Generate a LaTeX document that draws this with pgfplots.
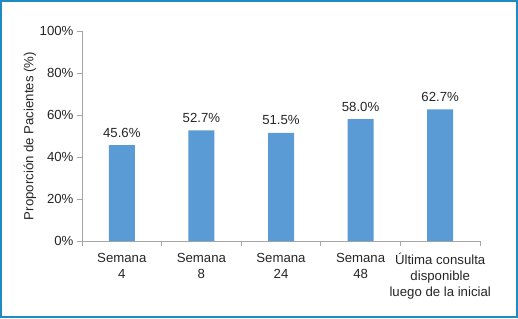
\documentclass[border=0pt]{standalone}
\usepackage{pgfplots}
\pgfplotsset{compat=1.18}
\usepackage{fontspec}
\setmainfont{Liberation Sans}
\definecolor{barcol}{HTML}{5B9BD5}
\definecolor{axiscol}{HTML}{A6A6A6}
\definecolor{framecol}{HTML}{1E8BC3}
\definecolor{txt}{HTML}{262626}
\begin{document}
\begin{tikzpicture}[x=1pt,y=1pt]
\fill[white] (0,0) rectangle (518,318);
\begin{axis}[
  at={(82pt,77pt)}, anchor=south west,
  scale only axis, width=398pt, height=210pt,
  xmin=-0.5, xmax=4.5, ymin=0, ymax=100,
  axis lines*=left,
  axis line style={draw=axiscol, line width=0.9pt},
  ybar, bar width=26pt,
  xtick={0,1,2,3,4},
  xticklabels={{Semana\\4},{Semana\\8},{Semana\\24},{Semana\\48},{Última consulta\\disponible\\luego de la inicial}},
  major x tick style={draw=none},
  minor xtick={-0.5,0.5,1.5,2.5,3.5,4.5},
  minor x tick style={draw=axiscol, line width=0.9pt},
  minor tick length=5pt,
  major tick length=5pt,
  tick align=outside,
  ytick={0,20,40,60,80,100},
  ytick style={draw=axiscol, line width=0.9pt},
  yticklabel={\pgfmathprintnumber{\tick}\%},
  /pgf/number format/assume math mode=true,
  tick label style={font=\fontsize{13.2}{16}\selectfont, text=txt},
  x tick label style={align=center, anchor=north, yshift=-4pt},
  ylabel={Proporción de Pacientes (\%)},
  ylabel style={at={(axis description cs:-0.1307,0.5)}, anchor=center, font=\fontsize{13.2}{16}\selectfont, text=txt},
  nodes near coords={\pgfmathprintnumber[fixed,precision=1,fixed zerofill]{\pgfplotspointmeta}\%},
  every node near coord/.append style={font=\fontsize{13.2}{16}\selectfont, text=txt, anchor=base, yshift=8pt},
]
\addplot[fill=barcol, draw=none] coordinates {(0,45.6) (1,52.7) (2,51.5) (3,58.0) (4,62.7)};
\end{axis}
\draw[framecol, line width=1.6pt] (0.8,0.8) rectangle (517.2,317.2);
\end{tikzpicture}
\end{document}
